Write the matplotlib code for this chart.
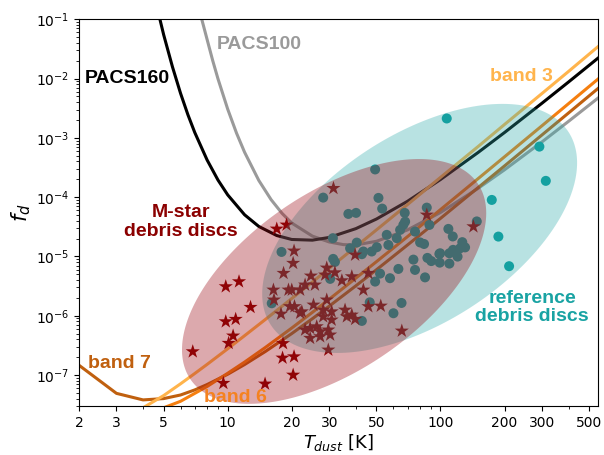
import numpy as np
import matplotlib
matplotlib.use("Agg")
import matplotlib.pyplot as plt
from matplotlib.ticker import NullFormatter, FixedLocator, FixedFormatter

# ---------------- data ----------------
# Sensitivity curves (T_dust [K], f_d)
pacs160_T = [4.8, 5.0, 5.5, 6.0, 6.5, 7.0, 8.0, 9.0, 10, 12, 14, 17, 20, 25, 30, 40, 50, 70, 100, 150, 200, 300, 400, 550]
pacs160_f = [1.0e-1, 5.47e-2, 1.57e-2, 5.65e-3, 2.45e-3, 1.23e-3, 4.23e-4, 1.94e-4, 1.09e-4, 5.04e-5, 3.2e-5, 2.25e-5,
             1.93e-5, 1.88e-5, 2.09e-5, 2.94e-5, 4.27e-5, 8.51e-5, 1.98e-4, 5.64e-4, 1.23e-3, 3.84e-3, 8.76e-3, 2.21e-2]

pacs100_T = [7.55, 8.0, 8.5, 9.0, 10, 11, 12, 14, 16, 18, 20, 25, 30, 35, 40, 50, 70, 100, 150, 200, 300, 400, 550]
pacs100_f = [1.0e-1, 4.56e-2, 2.01e-2, 9.88e-3, 3.04e-3, 1.2e-3, 5.72e-4, 1.91e-4, 9.04e-5, 5.33e-5, 3.65e-5, 2.2e-5,
             1.75e-5, 1.58e-5, 1.56e-5, 1.8e-5, 2.8e-5, 5.51e-5, 1.4e-4, 2.89e-4, 8.54e-4, 1.9e-3, 4.68e-3]

band3_T = [3.9, 4, 5, 6, 7, 8, 10, 12, 15, 20, 25, 30, 40, 50, 70, 100, 150, 200, 300, 400, 550]
band3_f = [2.6e-8, 2.8e-8, 4.5e-8, 7.1e-8, 1.06e-7, 1.51e-7, 2.77e-7, 4.6e-7, 8.6e-7, 1.95e-6, 3.7e-6, 6.3e-6,
           1.46e-5, 2.8e-5, 7.5e-5, 2.15e-4, 7.1e-4, 1.68e-3, 5.6e-3, 1.32e-2, 3.45e-2]

band6_T = [4, 5, 6, 7, 8, 10, 12, 15, 20, 25, 30, 40, 50, 70, 100, 150, 200, 300, 400, 550]
band6_f = [2.0e-8, 2.8e-8, 3.6e-8, 4.9e-8, 6.4e-8, 1.07e-7, 1.65e-7, 2.9e-7, 6.2e-7, 1.14e-6, 1.9e-6, 4.3e-6,
           8.15e-6, 2.16e-5, 6.16e-5, 2.04e-4, 4.79e-4, 1.6e-3, 3.78e-3, 9.8e-3]

band7_T = [2, 3, 4, 5, 6, 7, 8, 10, 12, 15, 20, 25, 30, 40, 50, 70, 100, 150, 200, 300, 400, 550]
band7_f = [1.46e-7, 4.9e-8, 3.8e-8, 4.0e-8, 4.6e-8, 5.6e-8, 6.9e-8, 1.03e-7, 1.5e-7, 2.48e-7, 5.0e-7, 8.9e-7,
           1.45e-6, 3.19e-6, 5.96e-6, 1.56e-5, 4.38e-5, 1.44e-4, 3.36e-4, 1.12e-3, 2.63e-3, 6.8e-3]

# M-star debris discs (stars)
mstar_T = [6.85, 9.79, 11.3, 12.8, 9.79, 10.9, 10.6, 10.1, 9.54, 14.98, 18.2, 18.1, 20.5, 20.3, 18.3, 16.4, 16.5,
           19.3, 19.6, 17.8, 20.3, 20.5, 17.0, 18.9, 21.9, 31.4, 39.7, 86.2, 142.8, 24.6, 23.1, 25.7, 28.7, 31.9,
           34.4, 38.3, 43.4, 20.0, 20.6, 22.3, 25.3, 29.2, 28.1, 30.8, 35.6, 36.3, 38.3, 39.7, 45.8, 52.4, 28.1,
           30.8, 24.4, 23.1, 26.2, 27.2, 29.7, 30.3, 24.4, 27.2, 29.7, 65.8, 45.8, 29.2, 21.9]
mstar_f = [2.48e-7, 3.10e-6, 3.76e-6, 1.39e-6, 7.96e-7, 8.73e-7, 4.57e-7, 3.44e-7, 7.27e-8, 7.08e-8, 3.41e-7,
           1.94e-7, 2.04e-7, 1.00e-7, 5.21e-6, 2.72e-6, 1.85e-6, 2.72e-6, 1.43e-6, 1.07e-6, 7.69e-6, 1.24e-5,
           2.91e-5, 3.40e-5, 1.11e-6, 1.41e-4, 1.06e-5, 5.01e-5, 3.18e-5, 4.69e-6, 3.31e-6, 3.31e-6, 4.88e-6,
           5.33e-6, 3.91e-6, 4.57e-6, 2.72e-6, 2.72e-6, 1.43e-6, 1.17e-6, 1.52e-6, 1.85e-6, 1.25e-6, 1.17e-6,
           1.25e-6, 9.66e-7, 1.03e-6, 8.73e-7, 1.43e-6, 1.46e-6, 9.66e-7, 8.50e-7, 6.15e-7, 5.77e-7, 6.55e-7,
           5.40e-7, 5.77e-7, 4.75e-7, 4.18e-7, 4.45e-7, 2.65e-7, 5.54e-7, 5.21e-6, 6.40e-6, 2.72e-6]

# reference debris discs (circles)
ref_T = [107.0, 291.6, 312.6, 174.2, 187.1, 210.1, 49.3, 28.1, 51.1, 53.2, 36.9, 40.1, 86.2, 67.9, 148.1, 88.7,
         108.9, 114.2, 80.2, 83.7, 126.6, 130.5, 114.6, 120.3, 110.1, 98.8, 86.8, 90.5, 99.2, 110.1, 74.6, 75.9,
         84.6, 68.2, 66.9, 64.6, 55.9, 62.3, 75.9, 31.2, 40.4, 37.6, 50.2, 47.5, 42.7, 31.3, 31.9, 63.4, 30.3,
         52.0, 49.3, 57.9, 65.6, 60.1, 46.5, 42.7, 43.4, 56.9, 99.6, 17.9, 16.1, 123.6]
ref_f = [2.12e-3, 7.11e-4, 1.88e-4, 8.97e-5, 2.16e-5, 6.84e-6, 2.93e-4, 9.81e-5, 9.70e-5, 6.40e-5, 5.21e-5,
         5.42e-5, 6.65e-5, 5.42e-5, 3.89e-5, 3.40e-5, 2.91e-5, 2.17e-5, 1.72e-5, 1.62e-5, 1.74e-5, 1.42e-5,
         1.29e-5, 9.93e-6, 1.13e-5, 1.10e-5, 9.44e-6, 8.34e-6, 7.85e-6, 7.57e-6, 8.83e-6, 5.92e-6, 4.43e-6,
         3.86e-5, 3.40e-5, 2.80e-5, 2.31e-5, 2.03e-5, 2.62e-5, 2.03e-5, 1.71e-5, 1.37e-5, 1.43e-5, 1.21e-5,
         1.09e-5, 9.08e-6, 8.07e-6, 6.15e-6, 4.18e-6, 5.13e-6, 3.76e-6, 4.29e-6, 1.64e-6, 1.10e-6, 1.68e-6,
         8.17e-7, 1.21e-5, 1.56e-5, 1.13e-5, 1.19e-5, 1.62e-6, 1.37e-5]

# Ellipses: centre (log10 T, log10 f) and two conjugate semi-axis vectors in decades
mstar_ell_centre = (1.500, -5.422)
mstar_ell_axes = ((0.675, 1.652), (-0.2355, 1.238))
ref_ell_centre = (1.902, -4.528)
ref_ell_axes = ((0.700, 1.625), (-0.240, 1.331))

xtick_vals = [2, 3, 5, 10, 20, 30, 50, 100, 200, 300, 500]
xtick_labels = ["2", "3", "5", "10", "20", "30", "50", "100", "200", "300", "500"]
ytick_vals = [1e-7, 1e-6, 1e-5, 1e-4, 1e-3, 1e-2, 1e-1]

# ---------------- figure ----------------
fig = plt.figure(figsize=(6.04, 4.55), dpi=100)
ax = fig.add_axes([0.1308, 0.1077, 0.8593, 0.85])
ax.set_xscale("log")
ax.set_yscale("log")

lw = 2.2
ax.plot(pacs100_T, pacs100_f, color="#9a9a9a", lw=lw, zorder=2)
ax.plot(pacs160_T, pacs160_f, color="black", lw=lw, zorder=2)
ax.plot(band7_T, band7_f, color="#c0600f", lw=lw, zorder=2)
ax.plot(band6_T, band6_f, color="#f57f0f", lw=lw, zorder=2)
ax.plot(band3_T, band3_f, color="#ffb44c", lw=lw, zorder=2)

ax.scatter(ref_T, ref_f, s=52, color="#0a9c9c", edgecolors="none", zorder=3)
ax.scatter(mstar_T, mstar_f, s=115, marker="*", color="#8b0000", edgecolors="none", zorder=3)

t = np.linspace(0, 2 * np.pi, 300)


def ellipse(centre, axes_):
    (a1, a2), (b1, b2) = axes_
    lx = centre[0] + a1 * np.cos(t) + b1 * np.sin(t)
    ly = centre[1] + a2 * np.cos(t) + b2 * np.sin(t)
    return 10 ** lx, 10 ** ly


ex, ey = ellipse(ref_ell_centre, ref_ell_axes)
ax.fill(ex, ey, color="#2aa9a9", alpha=0.33, lw=0, zorder=4)
ex, ey = ellipse(mstar_ell_centre, mstar_ell_axes)
ax.fill(ex, ey, color="#9b0a14", alpha=0.35, lw=0, zorder=5)

ax.set_xlim(2, 550)
ax.set_ylim(3e-8, 1e-1)

ax.xaxis.set_major_locator(FixedLocator(xtick_vals))
ax.xaxis.set_major_formatter(FixedFormatter(xtick_labels))
ax.xaxis.set_minor_formatter(NullFormatter())
ax.set_yticks(ytick_vals)
ax.yaxis.set_minor_formatter(NullFormatter())
ax.tick_params(labelsize=10)

ax.set_xlabel(r"$T_{dust}$ [K]", fontsize=13, labelpad=2)
ax.set_ylabel(r"$f_d$", fontsize=15, labelpad=2)

tf = dict(family="Liberation Sans", weight="bold", fontsize=14, zorder=6)
ax.text(2.13, 1.02e-2, "PACS160", color="black", ha="left", va="center", **tf)
ax.text(8.88, 3.69e-2, "PACS100", color="#9a9a9a", ha="left", va="center", **tf)
ax.text(171, 1.08e-2, "band 3", color="#ffb44c", ha="left", va="center", **tf)
ax.text(6.03, 3.82e-5, "M-star\ndebris discs", color="#8b0000", ha="center", va="center",
        linespacing=1.1, **tf)
ax.text(269.6, 1.37e-6, "reference\ndebris discs", color="#19a3a3", ha="center", va="center",
        linespacing=1.1, **tf)
ax.text(2.20, 1.58e-7, "band 7", color="#c0600f", ha="left", va="center", **tf)
ax.text(7.74, 4.23e-8, "band 6", color="#f5821f", ha="left", va="center", **tf)

fig.savefig("out.png", dpi=100)
